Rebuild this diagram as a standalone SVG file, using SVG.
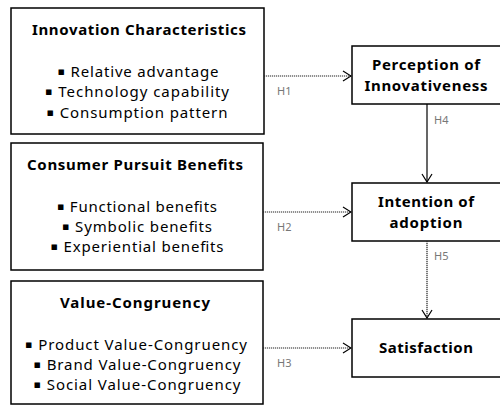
<svg xmlns="http://www.w3.org/2000/svg" width="500" height="406" viewBox="0 0 500 406">
<defs>
<style>
.box{fill:#fff;stroke:#000;stroke-width:1.5}
.t{font-family:"Noto Sans","DejaVu Sans",sans-serif;font-size:15px;font-weight:bold;fill:#000;text-anchor:middle}
.i{font-family:"Noto Sans","DejaVu Sans",sans-serif;font-size:15px;fill:#000;text-anchor:middle}
.b{font-size:11px;baseline-shift:2px}
.h{font-family:"Noto Sans","DejaVu Sans",sans-serif;font-size:11px;fill:#777}
.dot{stroke:#222;stroke-width:1.2;stroke-dasharray:1.2 0.8;fill:none}
.sol{stroke:#000;stroke-width:1.2;fill:none}
</style>
<marker id="ah" markerWidth="10" markerHeight="12" refX="9" refY="6" orient="auto" markerUnits="userSpaceOnUse">
<path d="M1,1 L9,6 L1,11" fill="none" stroke="#000" stroke-width="1.2"/>
</marker>
</defs>
<g id="innovation">
<rect class="box" x="11" y="8" width="253" height="126"/>
<text class="t" x="139" y="35" textLength="214">Innovation Characteristics</text>
<text class="i" x="138" y="77" textLength="161"><tspan class="b">▪</tspan> Relative advantage</text>
<text class="i" x="137" y="97" textLength="184"><tspan class="b">▪</tspan> Technology capability</text>
<text class="i" x="137" y="118" textLength="181"><tspan class="b">▪</tspan> Consumption pattern</text>
</g>
<g id="consumer">
<rect class="box" x="11" y="143" width="252" height="127"/>
<text class="t" x="135" y="170" textLength="216">Consumer Pursuit Benefits</text>
<text class="i" x="137" y="212" textLength="160"><tspan class="b">▪</tspan> Functional benefits</text>
<text class="i" x="137" y="232" textLength="150"><tspan class="b">▪</tspan> Symbolic benefits</text>
<text class="i" x="137" y="252" textLength="173"><tspan class="b">▪</tspan> Experiential benefits</text>
</g>
<g id="value">
<rect class="box" x="11" y="281" width="252" height="123"/>
<text class="t" x="135" y="308" textLength="150">Value-Congruency</text>
<text class="i" x="136" y="350" textLength="222"><tspan class="b">▪</tspan> Product Value-Congruency</text>
<text class="i" x="137" y="370" textLength="207"><tspan class="b">▪</tspan> Brand Value-Congruency</text>
<text class="i" x="137" y="390" textLength="207"><tspan class="b">▪</tspan> Social Value-Congruency</text>
</g>
<g id="perception">
<rect class="box" x="352" y="46" width="152" height="58"/>
<text class="t" x="426" y="70" textLength="108">Perception of</text>
<text class="t" x="426" y="91" textLength="123">Innovativeness</text>
</g>
<g id="intention">
<rect class="box" x="352" y="183" width="152" height="58"/>
<text class="t" x="426" y="207" textLength="96">Intention of</text>
<text class="t" x="426" y="228" textLength="73">adoption</text>
</g>
<g id="satisfaction">
<rect class="box" x="352" y="319" width="152" height="58"/>
<text class="t" x="426" y="353" textLength="94">Satisfaction</text>
</g>
<g id="connectors">
<line class="dot" x1="264" y1="76" x2="351" y2="76" marker-end="url(#ah)"/>
<line class="dot" x1="263" y1="212" x2="351" y2="212" marker-end="url(#ah)"/>
<line class="dot" x1="263" y1="348" x2="351" y2="348" marker-end="url(#ah)"/>
<line class="sol" x1="427" y1="104" x2="427" y2="182" marker-end="url(#ah)"/>
<line class="dot" x1="427" y1="241" x2="427" y2="318" marker-end="url(#ah)"/>
<text class="h" x="277" y="95">H1</text>
<text class="h" x="277" y="231">H2</text>
<text class="h" x="277" y="367">H3</text>
<text class="h" x="434" y="124">H4</text>
<text class="h" x="434" y="260">H5</text>
</g>
</svg>
